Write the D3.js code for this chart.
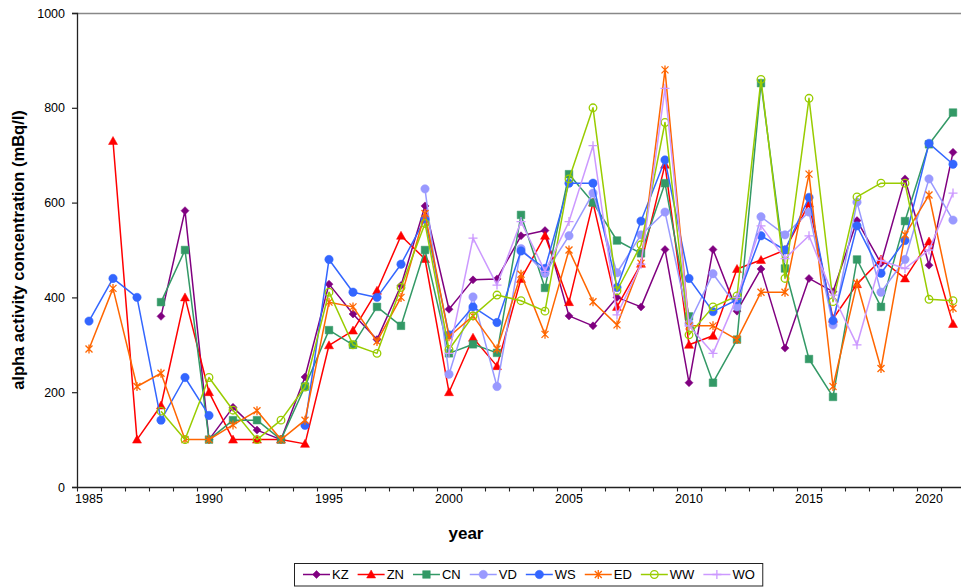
<!DOCTYPE html>
<html>
<head>
<meta charset="utf-8">
<script src="https://cdn.jsdelivr.net/npm/d3@7"></script>
<style>
  html, body { margin: 0; padding: 0; background: #fff; }
  svg { display: block; font-family: "Liberation Sans", Arial, sans-serif; }
</style>
</head>
<body>
<svg id="chart" width="961" height="587"></svg>
<script>
// ---- data ----
const years = d3.range(1985, 2022);
const yTicks = [0, 200, 400, 600, 800, 1000];
const xLabelYears = [1985, 1990, 1995, 2000, 2005, 2010, 2015, 2020];
const seriesNames = ["KZ", "ZN", "CN", "VD", "WS", "ED", "WW", "WO"];

const KZ = [null,null,null,360,583,100,168,120,100,232,428,365,311,425,593,375,437,439,530,541,361,340,400,380,501,220,501,371,460,293,440,412,562,472,650,468,706];
const ZN = [null,730,100,172,400,200,100,100,100,91,299,330,414,530,481,200,315,255,439,530,390,600,380,471,680,300,319,460,479,500,598,355,428,480,440,518,344];
const CN = [null,null,null,390,500,100,141,141,100,212,331,300,380,340,500,282,301,283,574,420,660,600,520,493,641,360,220,311,852,461,270,190,480,380,561,723,790];
const VD = [null,null,null,null,null,null,null,null,null,null,null,null,null,null,629,238,401,212,503,451,530,620,452,532,580,345,450,380,570,532,580,342,601,411,480,650,563];
const WS = [350,440,400,141,231,151,null,null,null,130,480,411,400,470,565,321,380,347,498,461,641,641,421,561,690,440,370,395,530,500,611,351,551,451,520,725,681];
const ED = [291,419,212,240,100,100,131,161,100,141,390,380,307,400,577,317,361,291,449,322,500,391,342,472,880,340,340,311,411,411,660,212,430,250,532,616,377];
const WW = [null,null,null,160,100,231,162,100,141,211,411,300,282,421,556,290,361,405,393,371,650,800,414,511,769,321,380,403,860,440,820,391,612,641,641,396,393];
const WO = [null,null,null,null,null,null,null,null,null,null,null,null,null,null,null,282,525,426,560,455,560,720,363,470,841,340,282,400,551,482,530,405,300,478,461,500,620];

const seriesValues = [KZ, ZN, CN, VD, WS, ED, WW, WO];

// ---- styles ----
const colors = {KZ:"#800080", ZN:"#FF0000", CN:"#339966", VD:"#9999FF", WS:"#3366FF", ED:"#FF6600", WW:"#99CC00", WO:"#CC99FF"};
const markerPaths = {
  KZ: {d:"M0,-4L4,0L0,4L-4,0Z", fill:true},
  ZN: {d:"M0,-4.5L4.5,3.5L-4.5,3.5Z", fill:true},
  CN: {d:"M-3.8,-3.8H3.8V3.8H-3.8Z", fill:true},
  VD: {circle:4.2, fill:true},
  WS: {circle:4.2, fill:true},
  ED: {d:"M-3.5,-3.5L3.5,3.5M-3.5,3.5L3.5,-3.5M0,-4.5V4.5", fill:false},
  WW: {circle:3.8, fill:false},
  WO: {d:"M-4.5,0H4.5M0,-4.5V4.5", fill:false}
};

const svg = d3.select("#chart");
const plotLeft = 77, plotTop = 13, plotBottom = 487, step = 24;
const x = d3.scaleBand().domain(years).range([plotLeft, plotLeft + years.length * step]).padding(0);
const cx = yr => x(yr) + x.bandwidth() / 2;
const y = d3.scaleLinear().domain([0, 1000]).range([plotBottom, plotTop]);

// plot top border (grey)
svg.append("line").attr("x1", plotLeft).attr("x2", 961).attr("y1", plotTop + 0.5).attr("y2", plotTop + 0.5)
  .attr("stroke", "#888").attr("stroke-width", 1.3);

// y axis
const yAxis = svg.append("g").attr("transform", `translate(${plotLeft},0)`)
  .call(d3.axisLeft(y).tickValues(yTicks).tickSize(5).tickPadding(7).tickFormat(d3.format("d")));
yAxis.select(".domain").attr("stroke", "#222").attr("stroke-width", 1.3);
yAxis.selectAll(".tick line").attr("stroke", "#222").attr("stroke-width", 1.2);
yAxis.selectAll("text").attr("font-size", "12.5px").attr("fill", "#000")
  .attr("font-family", "Liberation Sans, Arial, sans-serif");

// x axis: baseline, ticks at category boundaries, labels at category centres
const xg = svg.append("g");
xg.append("line").attr("x1", plotLeft).attr("x2", 961).attr("y1", plotBottom + 0.5).attr("y2", plotBottom + 0.5)
  .attr("stroke", "#222").attr("stroke-width", 1.3);
xg.selectAll("line.tk").data(years).join("line").attr("class", "tk")
  .attr("x1", d => x(d) + 0.5).attr("x2", d => x(d) + 0.5)
  .attr("y1", plotBottom).attr("y2", plotBottom + 4.5).attr("stroke", "#222").attr("stroke-width", 1.1);
xg.selectAll("text").data(xLabelYears).join("text")
  .attr("x", d => cx(d)).attr("y", plotBottom + 16).attr("text-anchor", "middle")
  .attr("font-size", "12.5px").attr("fill", "#000").text(d => d);

// axis titles
svg.append("text").attr("transform", "translate(24,250) rotate(-90)")
  .attr("text-anchor", "middle").attr("font-weight", "bold").attr("font-size", "16.5px")
  .text("alpha activity concentration (mBq/l)");
svg.append("text").attr("x", 466).attr("y", 539).attr("text-anchor", "middle")
  .attr("font-weight", "bold").attr("font-size", "17px").text("year");

// marker helper
function drawMarker(g, name, px, py) {
  const m = markerPaths[name], c = colors[name];
  if (m.circle) {
    g.append("circle").attr("cx", px).attr("cy", py).attr("r", m.circle)
      .attr("fill", m.fill ? c : "none").attr("stroke", c).attr("stroke-width", m.fill ? 0.5 : 1.3);
  } else {
    g.append("path").attr("d", m.d).attr("transform", `translate(${px},${py})`)
      .attr("fill", m.fill ? c : "none").attr("stroke", c).attr("stroke-width", m.fill ? 0.5 : 1.3);
  }
}

// series
const line = d3.line().defined(d => d.v != null).x(d => cx(d.year)).y(d => y(d.v));
seriesNames.forEach((name, i) => {
  const data = years.map((yr, j) => ({year: yr, v: seriesValues[i][j]}));
  const g = svg.append("g");
  g.append("path").datum(data).attr("d", line).attr("fill", "none")
    .attr("stroke", colors[name]).attr("stroke-width", 1.5).attr("stroke-linejoin", "round");
  data.filter(d => d.v != null).forEach(d => drawMarker(g, name, cx(d.year), y(d.v)));
});

// legend
const lg = svg.append("g");
const lgRect = lg.append("rect").attr("x", 294.5).attr("y", 563.5).attr("height", 22.5)
  .attr("fill", "#fff").attr("stroke", "#222").attr("stroke-width", 1);
let lx = 303;
const ly = 574.5;
seriesNames.forEach(name => {
  lg.append("line").attr("x1", lx).attr("x2", lx + 27).attr("y1", ly).attr("y2", ly)
    .attr("stroke", colors[name]).attr("stroke-width", 1.5);
  drawMarker(lg, name, lx + 13.5, ly);
  const t = lg.append("text").attr("x", lx + 29).attr("y", ly + 4.5).attr("font-size", "13px")
    .attr("fill", "#000").text(name);
  lx += 29 + t.node().getComputedTextLength() + 9;
});
lgRect.attr("width", lx - 294.5 - 1);
</script>
</body>
</html>
